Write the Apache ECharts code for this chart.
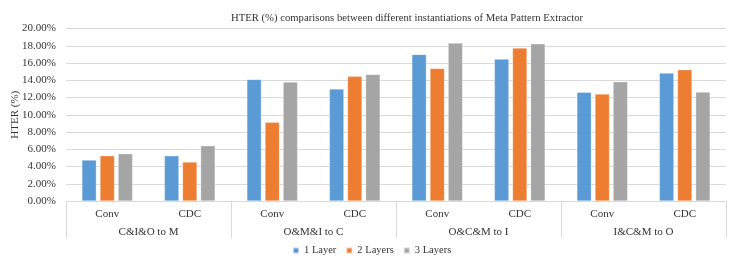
<!DOCTYPE html>
<html><head><meta charset="utf-8">
<script src="https://cdn.jsdelivr.net/npm/echarts@6/dist/echarts.min.js"></script>
<style>html,body{margin:0;padding:0;background:#fff}#c{width:747px;height:262px}</style>
</head><body><div id="c"></div>
<script>
var categories = ['Conv','CDC','Conv','CDC','Conv','CDC','Conv','CDC'];
var groups = ['C&I&O to M','O&M&I to C','O&C&M to I','I&C&M to O'];
var seriesNames = ['1 Layer','2 Layers','3 Layers'];
var layer1 = [4.75, 5.25, 14.10, 13.00, 17.00, 16.45, 12.60, 14.83];
var layer2 = [5.25, 4.52, 9.12, 14.45, 15.37, 17.73, 12.40, 15.22];
var layer3 = [5.48, 6.41, 13.79, 14.68, 18.31, 18.23, 13.83, 12.63];
var yTicks = {min: 0, max: 20, interval: 2};

var font = 'Liberation Serif';
var txt = '#333333';
var colors = ['#5B9BD5','#ED7D31','#A5A5A5'];
var chart = echarts.init(document.getElementById('c'), null, {renderer:'canvas'});
var values = [layer1, layer2, layer3];
chart.setOption({
  animation:false,
  textStyle:{fontFamily:font},
  title:{text:'HTER (%) comparisons between different instantiations of Meta Pattern Extractor',
    left:402, top:8, textAlign:'center',
    textStyle:{fontFamily:font,fontSize:10.7,fontWeight:'normal',color:txt}},
  legend:{data:seriesNames, left:287, top:240, itemWidth:6, itemHeight:6, itemGap:9,
    icon:'rect', textStyle:{fontFamily:font,fontSize:10.5,color:txt}},
  grid:{left:66, right:21, top:28.5, bottom:61, containLabel:false, outerBoundsMode:'none'},
  xAxis:[
    {type:'category', data:categories, position:'bottom', offset:0,
     axisLine:{show:true,lineStyle:{color:'#D9D9D9'}}, axisTick:{show:false},
     axisLabel:{fontFamily:font,fontSize:11,color:txt,margin:8,interval:0}},
    {type:'category', data:groups, position:'bottom', offset:0,
     axisLine:{show:false}, axisTick:{show:true,length:37,lineStyle:{color:'#D9D9D9'}},
     axisLabel:{fontFamily:font,fontSize:11,color:txt,margin:26,interval:0},
     splitLine:{show:false}}
  ],
  yAxis:{type:'value', min:yTicks.min, max:yTicks.max, interval:yTicks.interval,
    name:'HTER (%)', nameLocation:'middle', nameGap:45, nameRotate:90, nameMoveOverlap:false,
    nameTextStyle:{fontFamily:font,fontSize:11,color:txt},
    axisLine:{show:false}, axisTick:{show:false},
    axisLabel:{fontFamily:font,fontSize:11,color:txt,margin:10,
      formatter:function(v){return v.toFixed(2)+'%';}},
    splitLine:{lineStyle:{color:'#D9D9D9'}}},
  series: seriesNames.map(function(n,i){
    return {name:n, type:'bar', xAxisIndex:0, data:values[i], barWidth:14.5, barGap:'25%',
      itemStyle:{color:colors[i], borderColor:'rgba(255,255,255,0.6)', borderWidth:0.5}};
  })
});
</script></body></html>
